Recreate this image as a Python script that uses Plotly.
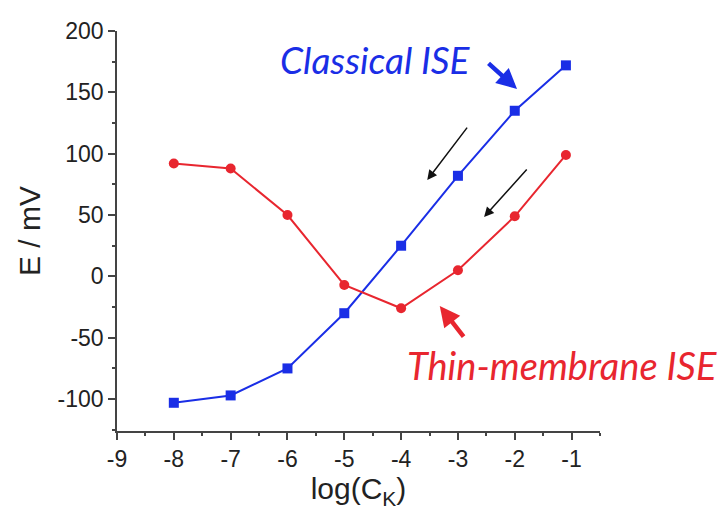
import plotly.graph_objects as go

logC = [-8, -7, -6, -5, -4, -3, -2, -1.1]
classical_E = [-103, -97, -75, -30, 25, 82, 135, 172]
thin_E = [92, 88, 50, -7, -26, 5, 49, 99]

x_ticks = [-9, -8, -7, -6, -5, -4, -3, -2, -1]
x_ticklabels = ["-9", "-8", "-7", "-6", "-5", "-4", "-3", "-2", "-1"]
y_ticks = [-100, -50, 0, 50, 100, 150, 200]
y_ticklabels = ["-100", "-50", "0", "50", "100", "150", "200"]

BLUE = "#1a2ee6"
RED = "#e8262f"

fig = go.Figure()
fig.add_trace(go.Scatter(x=logC, y=classical_E, mode="lines+markers",
                         line=dict(color=BLUE, width=2),
                         marker=dict(symbol="square", size=10, color=BLUE),
                         showlegend=False))
fig.add_trace(go.Scatter(x=logC, y=thin_E, mode="lines+markers",
                         line=dict(color=RED, width=2),
                         marker=dict(symbol="circle", size=10, color=RED),
                         showlegend=False))

tickfont = dict(family="Liberation Sans, Arial", size=23, color="#222")
titlefont = dict(family="Liberation Sans, Arial", size=30, color="#222")
fig.update_xaxes(range=[-9, -0.5], tickvals=x_ticks, ticktext=x_ticklabels,
                 ticks="outside", ticklen=7,
                 tickwidth=1.5, tickcolor="#444", showline=True, linecolor="#444",
                 linewidth=1.5, showgrid=False, zeroline=False, tickfont=tickfont,
                 minor=dict(ticks="outside", ticklen=3, dtick=0.5, tickcolor="#444", showgrid=False),
                 title=dict(text="log(C<sub>K</sub>)", font=titlefont, standoff=6))
fig.update_yaxes(range=[-126, 200], tickvals=y_ticks, ticktext=y_ticklabels,
                 ticks="outside", ticklen=7,
                 tickwidth=1.5, tickcolor="#444", showline=True, linecolor="#444",
                 linewidth=1.5, showgrid=False, zeroline=False, tickfont=tickfont,
                 minor=dict(ticks="outside", ticklen=3, dtick=25, tickcolor="#444", showgrid=False),
                 title=dict(text="E / mV", font=titlefont, standoff=8))

labelfont = "Lato, Open Sans, sans-serif"
ann = [
    dict(x=-4.45, y=177, xref="x", yref="y", text="<i>Classical ISE</i>", showarrow=False,
         font=dict(family=labelfont, size=37, color=BLUE)),
    dict(x=-1.17, y=-72, xref="x", yref="y", text="<i>Thin-membrane ISE</i>", showarrow=False,
         font=dict(family=labelfont, size=38, color=RED)),
    dict(x=-1.96, y=152.7, xref="x", yref="y", ax=-30, ay=-27, text="", showarrow=True,
         arrowhead=2, arrowsize=0.9, arrowwidth=4.5, arrowcolor=BLUE),
    dict(x=-3.32, y=-24.2, xref="x", yref="y", ax=25, ay=32, text="", showarrow=True,
         arrowhead=2, arrowsize=0.9, arrowwidth=4.5, arrowcolor=RED),
    dict(x=-3.54, y=78.5, xref="x", yref="y", ax=41, ay=-54, text="", showarrow=True,
         arrowhead=2, arrowsize=1.3, arrowwidth=1.5, arrowcolor="#111"),
    dict(x=-2.54, y=48.4, xref="x", yref="y", ax=44, ay=-49, text="", showarrow=True,
         arrowhead=2, arrowsize=1.3, arrowwidth=1.5, arrowcolor="#111"),
]
fig.update_layout(width=724, height=514, margin=dict(l=117, r=124, t=31, b=83),
                  plot_bgcolor="white", paper_bgcolor="white", annotations=ann)

fig.write_html("out.html")
